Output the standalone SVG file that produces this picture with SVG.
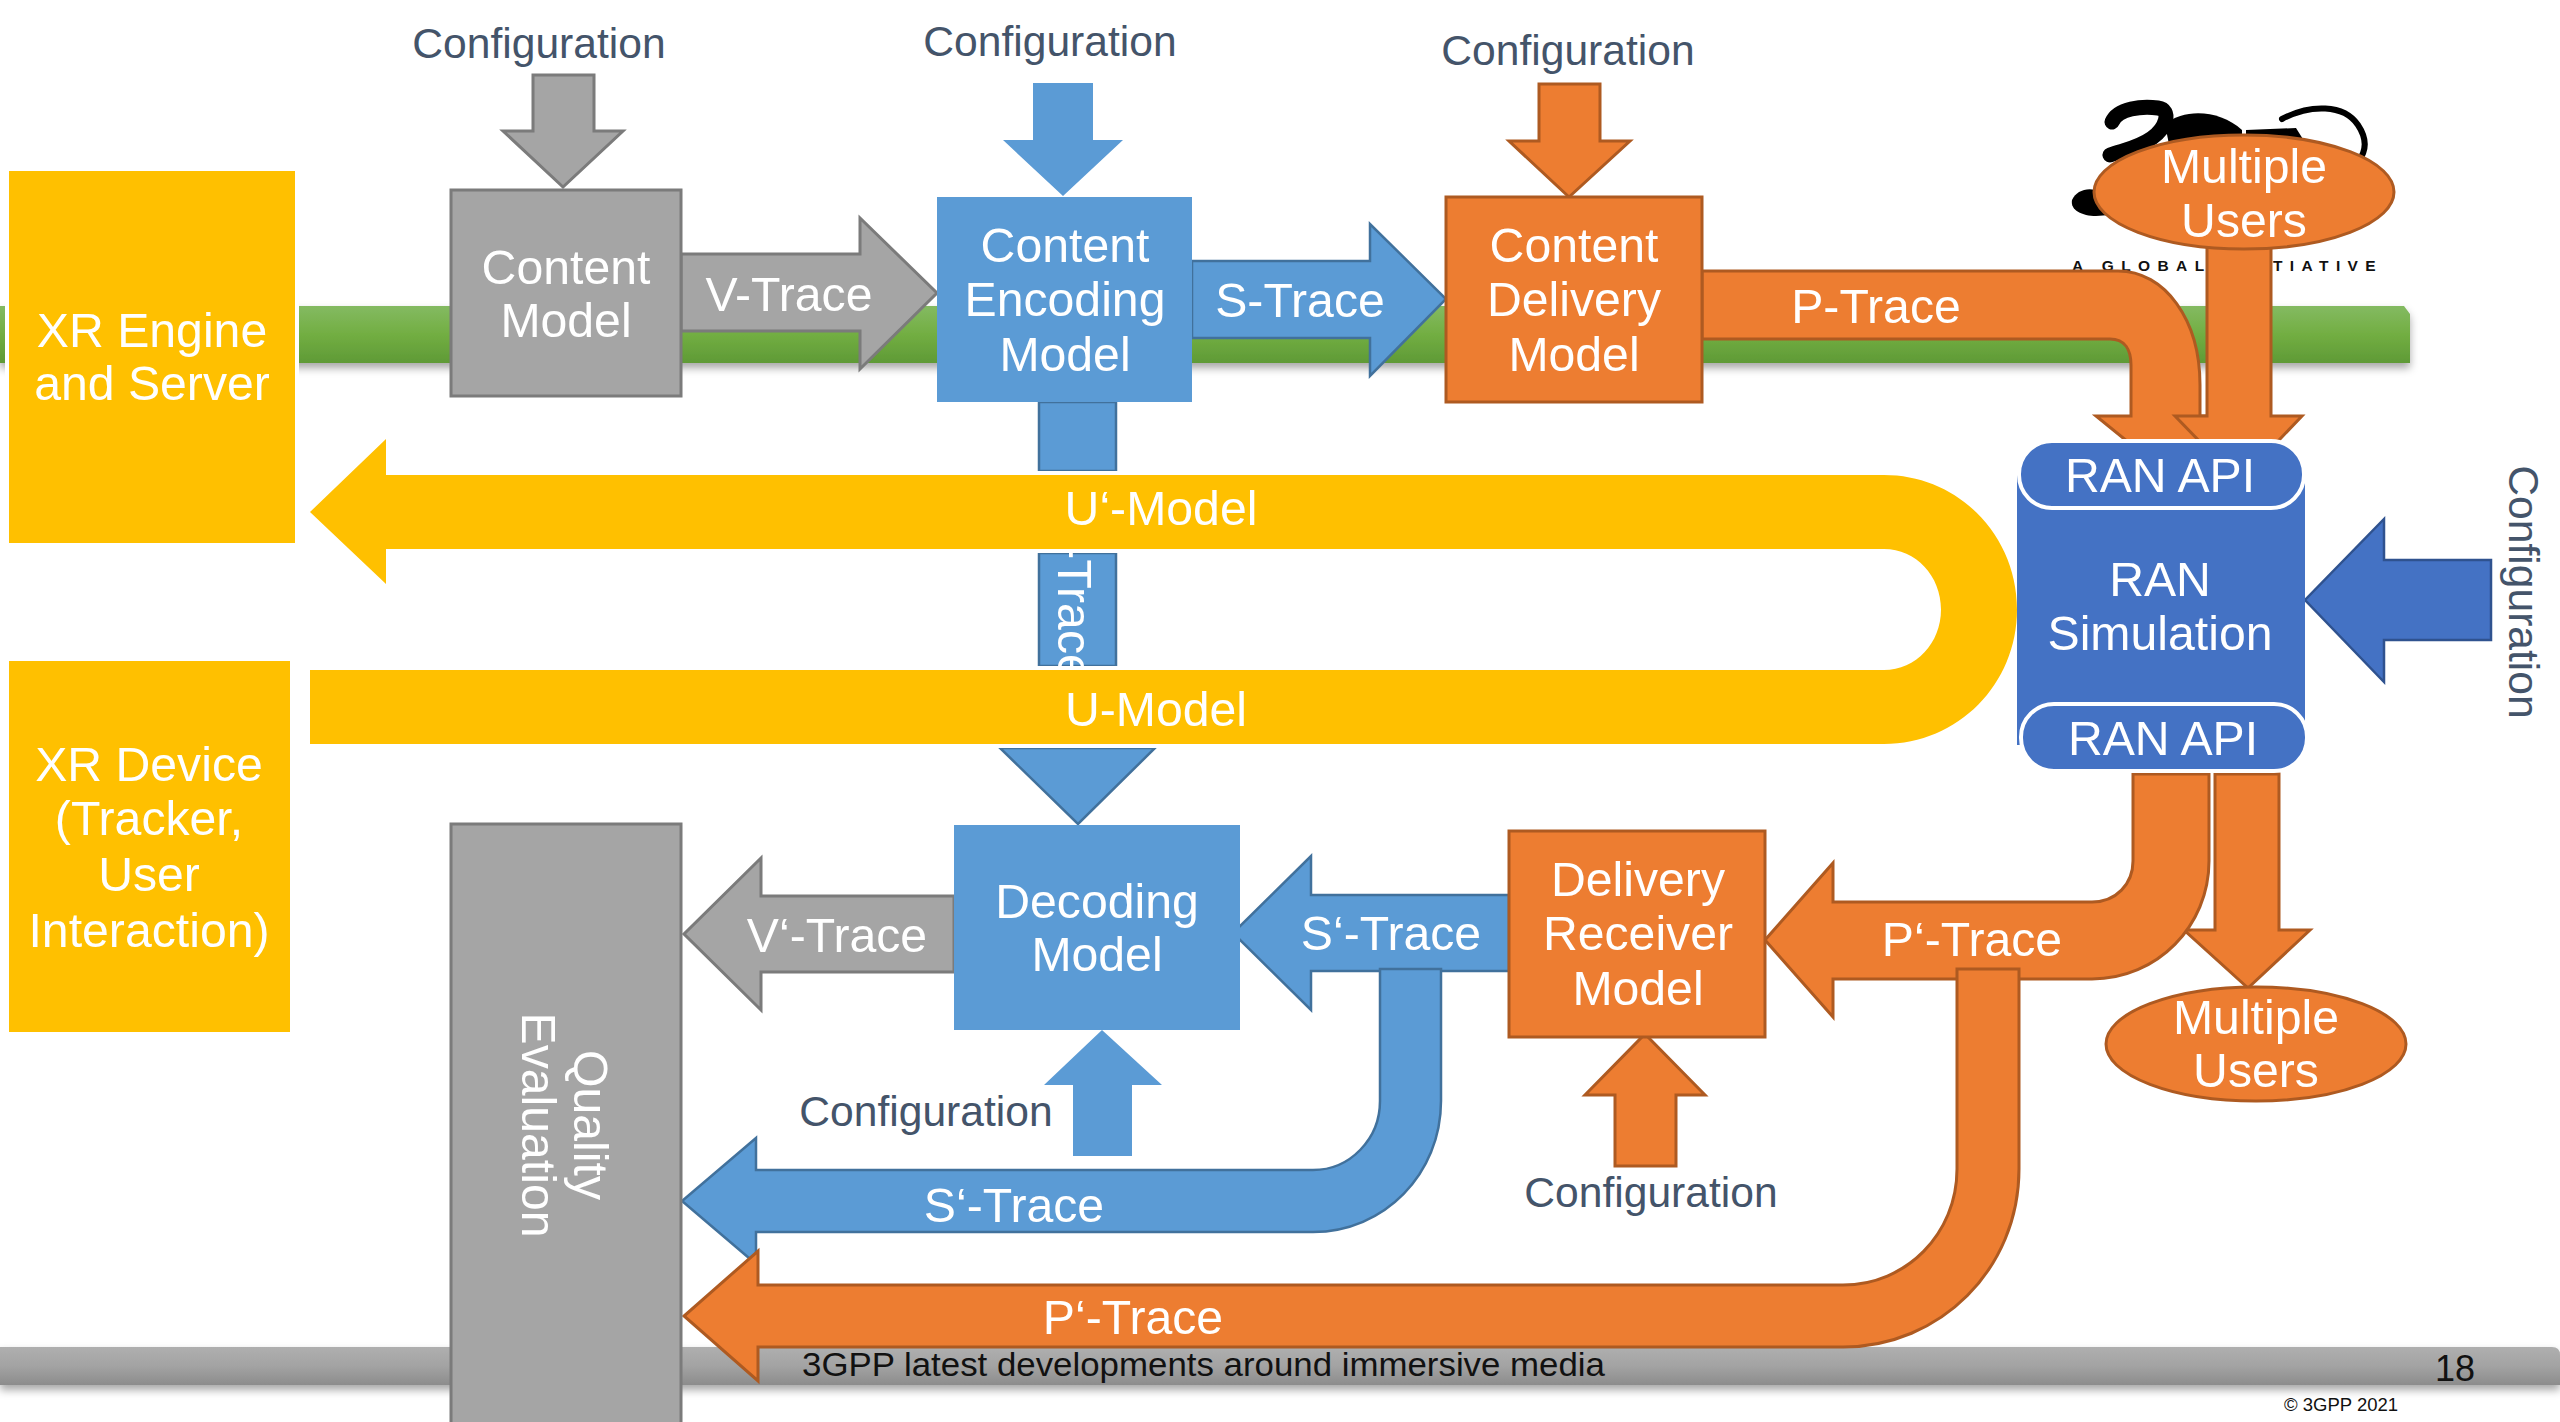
<svg xmlns="http://www.w3.org/2000/svg" width="2560" height="1422" viewBox="0 0 2560 1422">
<defs>
<linearGradient id="gGreen" x1="0" y1="0" x2="0" y2="1"><stop offset="0" stop-color="#84BA62"/><stop offset="0.5" stop-color="#72AE42"/><stop offset="1" stop-color="#5F9A36"/></linearGradient>
<linearGradient id="gGray" x1="0" y1="0" x2="0" y2="1"><stop offset="0" stop-color="#AFAFAF"/><stop offset="0.5" stop-color="#A3A3A3"/><stop offset="1" stop-color="#8C8C8C"/></linearGradient>
<filter id="shadow" x="-2%" y="-30%" width="104%" height="170%"><feDropShadow dx="0" dy="5" stdDeviation="4" flood-color="#000" flood-opacity="0.35"/></filter>
<clipPath id="tr"><rect x="1039" y="553" width="77" height="113"/></clipPath>
</defs>
<style>
text{font-family:"Liberation Sans",Arial,sans-serif;font-size:48.2px;fill:#fff;text-anchor:middle}
.cfg{font-size:42.6px;fill:#44546A}
.gray{fill:#A5A5A5;stroke:#7B7B7B;stroke-width:3}
.blue{fill:#5B9BD5;stroke:#41719C;stroke-width:2.5}
.bluen{fill:#5B9BD5}
.orange{fill:#ED7D31;stroke:#AE5A21;stroke-width:3}
.dark{fill:#4472C4;stroke:#2F528F;stroke-width:2.5}
.yel{fill:#FFC000;stroke:#fff;stroke-width:8;paint-order:stroke fill}
.pill{fill:#4472C4;stroke:#fff;stroke-width:4}
.foot{fill:#111;text-anchor:start}
.logo{fill:none;stroke:#000;stroke-linecap:round;stroke-linejoin:round}
</style>

<g id="background-bars">
<path d="M0 306H2404L2410 314V363H0Z" fill="url(#gGreen)" filter="url(#shadow)"/>
<path d="M0 1347H2552Q2560 1347 2560 1355V1385H0Z" fill="url(#gGray)" filter="url(#shadow)"/>
</g>

<g id="logo">
<path class="logo" stroke-width="15" d="M2112 122C2118 108 2142 106 2158 108C2172 110 2166 128 2152 138C2138 148 2124 150 2110 155"/>
<path d="M2165 124C2185 108 2220 110 2242 130L2242 160L2172 160Z" fill="#000"/>
<path d="M2246 130L2296 128L2316 160H2246Z" fill="#000"/>
<path class="logo" stroke-width="6" d="M2282 119C2310 104 2344 104 2358 125C2368 140 2366 152 2358 162"/>
<path d="M2072 200C2076 190 2090 186 2100 192L2110 215L2096 216C2082 216 2070 210 2072 200Z" fill="#000"/>
<text x="2072" y="271" style="font-size:15.5px;font-weight:bold;fill:#111;letter-spacing:7.4px;text-anchor:start">A GLOBAL INI<tspan x="2273">TIATIVE</tspan></text>
</g>

<g id="connectors">
<path id="cfg-content" class="gray" d="M533 75H594V131H623L563 187L503 131H533Z"/>
<path id="cfg-encoding" class="bluen" d="M1033 83H1093V140H1123L1063 196L1003 140H1033Z"/>
<path id="cfg-delivery" class="orange" d="M1539 84H1600V141H1630L1569 197L1509 141H1539Z"/>
<path id="v-trace" class="gray" d="M681 254H860V218L937 293L860 369V331H681Z"/>
<path id="s-trace" class="blue" d="M1192 261H1370V224L1446 299L1370 376V338H1192Z"/>
<path id="p-trace" class="orange" d="M1702 271H2118C2165 271 2200 320 2200 385V416H2233L2165 472L2096 416H2131V365C2131 350 2125 339 2110 339H1702Z"/>
<path id="users-in" class="orange" d="M2207 240H2271V416H2302L2239 482L2175 416H2207Z"/>
<g id="u-trace">
<path class="blue" d="M1039 402H1116V471H1039ZM1039 553H1116V666H1039Z"/>
<path class="blue" d="M1039 748H1155L1078 824L1000 748Z"/>
<g clip-path="url(#tr)"><text transform="translate(1058,596) rotate(90)" x="0" y="0">S-Trace</text></g>
</g>
<path id="u-model" class="yel" d="M1884 475C1958 475 2017 535 2017 609.5C2017 684 1958 744 1884 744H310V670H1884C1916 670 1941 643 1941 609.5C1941 576 1916 549 1884 549H386V584L310 512L386 439V475Z"/>
<path id="v-prime" class="gray" d="M954 896H761V858L684 934L761 1010V972H954Z"/>
<path id="s-prime" class="bluen" d="M1509 895H1311V856L1233 933L1311 1010V971H1509Z" stroke="#41719C" stroke-width="2.5"/>
<path id="s-prime-long" class="blue" d="M1380 969H1441V1101C1441 1174 1384 1232 1313 1232H756V1264L682 1201L756 1138V1170H1313C1350 1170 1380 1139 1380 1101Z"/>
<path id="cfg-decoding" class="bluen" d="M1102 1030L1162 1085H1132V1156H1073V1085H1044Z"/>
<path id="cfg-receiver" class="orange" d="M1645 1034L1705 1095H1676V1166H1615V1095H1585Z"/>
<path id="users-out" class="orange" d="M2215 774H2279V930H2310L2248 988L2184 930H2215Z"/>
<path id="p-prime" class="orange" d="M2133 774H2209V861C2209 926 2157 979 2092 979H1833V1017L1765 940L1833 863V902H2092C2116 902 2133 884 2133 861Z"/>
<path id="p-prime-long" class="orange" d="M1957 969H2019V1169C2019 1269 1940 1347 1843 1347H758V1381L684 1316L758 1251V1285H1843C1906 1285 1957 1234 1957 1169Z"/>
<path id="cfg-ran" class="dark" d="M2491 560V640H2384V682L2305 600L2384 519V560Z"/>
<text x="789" y="311">V-Trace</text>
<text x="1300" y="317">S-Trace</text>
<text x="1876" y="323">P-Trace</text>
<text x="1161" y="525">U‘-Model</text>
<text x="1156" y="726">U-Model</text>
<text x="837" y="952">V‘-Trace</text>
<text x="1391" y="950">S‘-Trace</text>
<text x="1972" y="956">P‘-Trace</text>
<text x="1014" y="1222">S‘-Trace</text>
<text x="1133" y="1334">P‘-Trace</text>
<text class="cfg" x="539" y="58">Configuration</text>
<text class="cfg" x="1050" y="56">Configuration</text>
<text class="cfg" x="1568" y="65">Configuration</text>
<text class="cfg" x="926" y="1126">Configuration</text>
<text class="cfg" x="1651" y="1207">Configuration</text>
<text class="cfg" transform="translate(2509,592) rotate(90)" x="0" y="0">Configuration</text>
</g>

<g id="xr-engine"><rect x="5" y="167" width="294" height="380" fill="#fff"/><rect x="9" y="171" width="286" height="372" fill="#FFC000"/><text x="152" y="347">XR Engine</text><text x="152" y="400">and Server</text></g>
<g id="xr-device"><rect x="9" y="661" width="281" height="371" fill="#FFC000"/><text x="149" y="781">XR Device</text><text x="149" y="835">(Tracker,</text><text x="149" y="891">User</text><text x="149" y="947">Interaction)</text></g>
<g id="content-model"><rect class="gray" x="451" y="190" width="230" height="206"/><text x="566" y="284">Content</text><text x="566" y="337">Model</text></g>
<g id="content-encoding"><rect class="bluen" x="937" y="197" width="255" height="205"/><text x="1065" y="262">Content</text><text x="1065" y="316">Encoding</text><text x="1065" y="371">Model</text></g>
<g id="content-delivery"><rect class="orange" x="1446" y="197" width="256" height="205"/><text x="1574" y="262">Content</text><text x="1574" y="316">Delivery</text><text x="1574" y="371">Model</text></g>
<g id="users-top"><ellipse class="orange" cx="2244" cy="192" rx="150" ry="57"/><text x="2244" y="183">Multiple</text><text x="2244" y="237">Users</text></g>
<g id="ran-simulation"><rect x="2017" y="474" width="288" height="271" fill="#4472C4"/><rect class="pill" x="2019" y="441" width="285" height="67" rx="33" ry="33"/><rect class="pill" x="2021" y="704" width="286" height="67" rx="33" ry="33"/><text x="2160" y="492">RAN API</text><text x="2160" y="596">RAN</text><text x="2160" y="650">Simulation</text><text x="2163" y="755">RAN API</text></g>
<g id="quality-evaluation"><rect class="gray" x="451" y="824" width="230" height="610"/><text transform="translate(574,1125) rotate(90)" x="0" y="0">Quality</text><text transform="translate(522,1125) rotate(90)" x="0" y="0">Evaluation</text></g>
<g id="decoding-model"><rect class="bluen" x="954" y="825" width="286" height="205"/><text x="1097" y="918">Decoding</text><text x="1097" y="971">Model</text></g>
<g id="delivery-receiver"><rect class="orange" x="1509" y="831" width="256" height="206"/><text x="1638" y="896">Delivery</text><text x="1638" y="950">Receiver</text><text x="1638" y="1005">Model</text></g>
<g id="users-bottom"><ellipse class="orange" cx="2256" cy="1044" rx="150" ry="57"/><text x="2256" y="1034">Multiple</text><text x="2256" y="1087">Users</text></g>

<g id="footer">
<text class="foot" x="802" y="1376" style="font-size:33px" textLength="803" lengthAdjust="spacingAndGlyphs">3GPP latest developments around immersive media</text>
<text class="foot" x="2435" y="1381" style="font-size:36px">18</text>
<text class="foot" x="2284" y="1411" style="font-size:18.5px">© 3GPP 2021</text>
</g>
</svg>
